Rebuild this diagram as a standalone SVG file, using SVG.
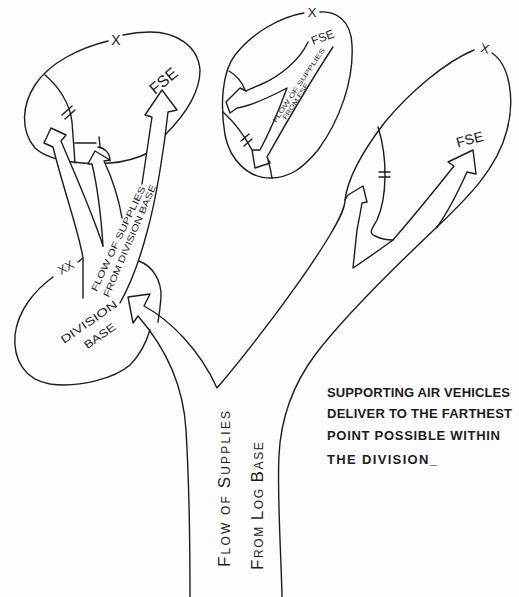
<svg xmlns="http://www.w3.org/2000/svg" width="519" height="597" viewBox="0 0 519 597">
<defs>
<style>
.ln{fill:none;stroke:#1c1c1c;stroke-width:1.4;stroke-linecap:round;stroke-linejoin:round}
.ar{fill:#fdfdfd;stroke:#1c1c1c;stroke-width:1.4;stroke-linecap:round;stroke-linejoin:round}
.hw{font-family:"Liberation Sans","DejaVu Sans",sans-serif;fill:#1c1c1c}
.nt{font-family:"Liberation Sans",Arial,sans-serif;font-weight:bold;font-size:13px;fill:#1c1c1c}
</style>
</defs>
<rect width="519" height="597" fill="#fdfdfd"/>

<g id="brigade-left">
<path class="ln" d="M165,135 C180,120 200,97 200,70 C198,45 175,32 150,32 C140,32 132,33 123,35 M108,41 C80,48 50,62 35,85 C22,105 20,130 35,148 C50,162 85,165 110,163 C125,162 140,157 150,152"/>
<path class="ln" d="M45,75 C58,86 70,103 72,122 L75,163"/>
<path class="ln" d="M62,115 L72,106 M65,119 L75,110"/>
<path class="ln" d="M75,143 L96,143 M99,137 L100,146 M98,147 C105,148 110,153 110,161"/>
</g>

<g id="brigade-mid">
<path class="ln" d="M320,12 C336,11 351,20 352,45 C354,80 340,120 318,150 C303,168 290,178 270,178 C248,178 230,160 225,135 C220,105 222,72 235,55 C252,33 280,17 304,13"/>
<path class="ln" d="M229,71 C236,75 242,82 245,90"/>
<path class="ln" d="M223,112 C233,121 243,133 252,150"/>
<path class="ln" d="M241,141 L249,134 M244,146 L252,139"/>
<path class="ln" d="M268,160 C270,166 271,172 272,178"/>
</g>

<g id="brigade-right">
<path class="ln" d="M492,53 C510,65 515,100 507,130 C497,170 465,200 437,227"/>
<path class="ln" d="M378,127 C388,158 387,198 377,220 C372,229 368,233 375,236 C381,239 387,240 393,240"/>
<path class="ln" d="M379,172 L390,172 M379,177 L390,177"/>
</g>

<g id="division-base">
<path class="ln" d="M139,261 C152,266 162,280 161,298 C160,309 159,316 158,322"/>
<path class="ln" d="M53,277 C35,290 18,310 15,335 C13,360 25,380 50,384 C80,388 115,378 130,365 C140,355 146,343 150,330"/>
<path class="ln" d="M78,262 L83,258"/>
</g>

<g id="connectors">
<path class="ar" d="M83,298 L83,258 C79,232 63,188 53,147 L44,143 L51,128 L66,135 L61,141 C74,172 92,212 103,246"/>
<path class="ar" d="M103,246 C101,215 97,185 92,164 L88,164 L95,151 L110,160 L104,161 C112,178 119,200 122,218"/>
<path class="ar" d="M142,184 L152,117 L145,115 L162,90 L177,110 L168,112 C164,150 156,200 147,232 C141,255 133,280 120,303"/>
<path class="ln" d="M190,597 C190,540 189,480 186,430 C184,395 172,355 138,316 L133,323 L128,297 L150,294 L144,306 C170,320 200,350 217,388 C245,355 300,285 330,235 C340,218 345,208 345,200 C348,175 365,148 385,122 C410,92 445,62 474,50"/>
<path class="ln" d="M437,227 C400,262 345,315 315,355 C295,382 281,415 279,455 C277,495 281,550 282,597"/>
<path class="ln" d="M345,200 L348,195 L363,186 L367,202 L362,203 C360,215 358,225 357,230 L353,268 C368,258 382,248 393,240 C412,218 435,190 454,166 L448,162 L473,150 L476,174 L467,172 C458,192 448,212 437,227"/>
<path class="ln" d="M308,42 C300,60 280,76 262,84 C255,87 250,89 246,91 L240,88 L226,102 L230,113 L237,108 C250,106 268,98 287,88 C279,110 268,135 260,150 L252,150 L255,168 L270,163 L267,157 C285,125 310,82 333,47"/>
</g>

<g id="labels" class="hw">
<text font-size="16" text-anchor="middle" transform="translate(167,85) rotate(-40)">FSE</text>
<text font-size="12" text-anchor="middle" transform="translate(324,41) rotate(-20)">FSE</text>
<text font-size="14" text-anchor="middle" transform="translate(471,144) rotate(-15)">FSE</text>
<text font-size="14" text-anchor="middle" x="116" y="45">X</text>
<text font-size="13" text-anchor="middle" x="312" y="17">X</text>
<text font-size="13" text-anchor="middle" transform="translate(484,53) rotate(12)">X</text>
<text font-size="12" text-anchor="middle" transform="translate(68,271) rotate(-30)">XX</text>
<text font-size="9" text-anchor="middle" textLength="115" lengthAdjust="spacingAndGlyphs" transform="translate(121,240) rotate(-64.7)">FLOW OF SUPPLIES</text>
<text font-size="9" text-anchor="middle" textLength="121" lengthAdjust="spacingAndGlyphs" transform="translate(132.5,242) rotate(-67)">FROM DIVISION BASE</text>
<text font-size="11" text-anchor="middle" textLength="66" lengthAdjust="spacingAndGlyphs" transform="translate(91,325) rotate(-35)">DIVISION</text>
<text font-size="11" text-anchor="middle" textLength="36" lengthAdjust="spacingAndGlyphs" transform="translate(102,339) rotate(-35)">BASE</text>
<text font-size="6.5" text-anchor="middle" textLength="88" lengthAdjust="spacingAndGlyphs" transform="translate(300.5,86.5) rotate(-56)">FLOW OF SUPPLIES</text>
<text font-size="6.5" text-anchor="middle" textLength="42" lengthAdjust="spacingAndGlyphs" transform="translate(297.5,102.5) rotate(-57)">FROM FSE</text>
<text font-size="12" letter-spacing="2.2" transform="translate(230,567) rotate(-90)"><tspan font-size="17">F</tspan>LOW OF <tspan font-size="17">S</tspan>UPPLIES</text>
<text font-size="12" letter-spacing="1.6" transform="translate(263,570) rotate(-90)"><tspan font-size="17">F</tspan>ROM <tspan font-size="17">L</tspan>OG <tspan font-size="17">B</tspan>ASE</text>
</g>

<g id="note" class="nt">
<text x="327" y="397" textLength="183" lengthAdjust="spacing">SUPPORTING AIR VEHICLES</text>
<text x="327" y="418" textLength="185" lengthAdjust="spacing">DELIVER TO THE FARTHEST</text>
<text x="327" y="440" textLength="173" lengthAdjust="spacing">POINT POSSIBLE WITHIN</text>
<text x="327" y="464" textLength="110" lengthAdjust="spacing">THE DIVISION_</text>
</g>
</svg>
